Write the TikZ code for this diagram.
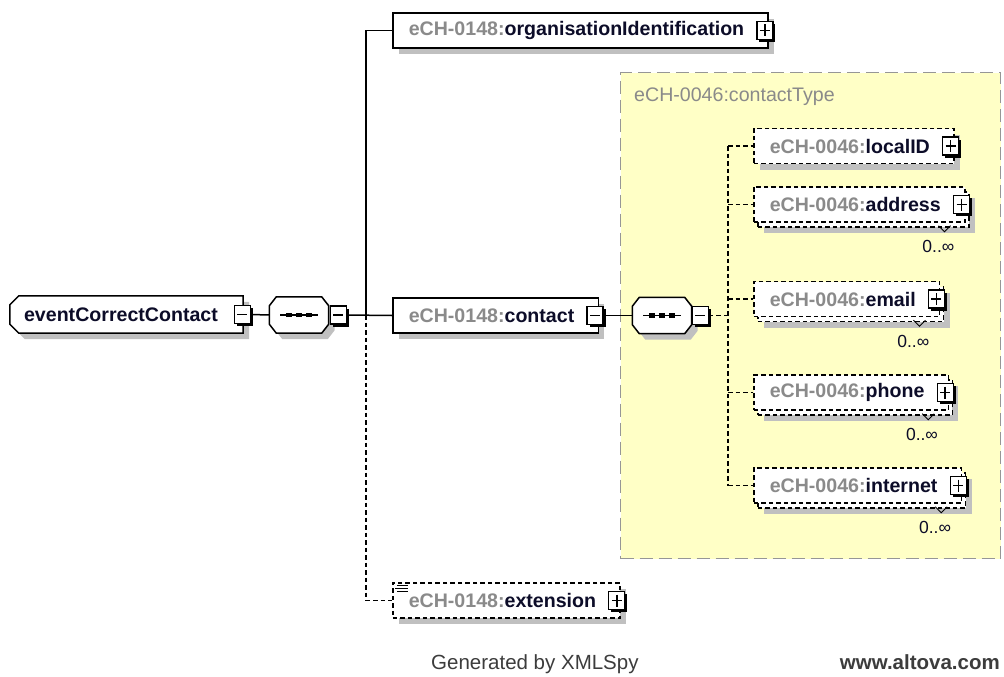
\documentclass[tikz,border=0pt]{standalone}
\usepackage{fontspec}
\setmainfont{Liberation Sans}
\usetikzlibrary{shadows,calc,positioning}

\pgfdeclarelayer{background}
\pgfsetlayers{background,main}

\definecolor{prefixgray}{RGB}{138,138,138}
\definecolor{namecol}{RGB}{12,12,40}
\definecolor{shadowgray}{RGB}{192,192,192}
\definecolor{typefill}{RGB}{255,255,198}
\definecolor{typeline}{RGB}{150,150,150}
\definecolor{footgray}{RGB}{60,60,60}

\newcommand{\elname}[2]{\textcolor{prefixgray}{#1:}\textcolor{namecol}{#2}\hspace*{8pt}}
% outline with cut corners round a node: name, left cut, right cut, vertical cut
\newcommand{\chamferpath}[4]{([xshift=#2]#1.north west) -- ([xshift=-#3]#1.north east) -- ([yshift=-#4]#1.north east)
	-- ([yshift=#4]#1.south east) -- ([xshift=-#3]#1.south east) -- ([xshift=#2]#1.south west)
	-- ([yshift=#4]#1.south west) -- ([yshift=-#4]#1.north west) -- cycle}

\tikzset{
  elcore/.style={rectangle, draw=black, fill=white, line width=1.5pt, minimum height=35, inner xsep=16, inner ysep=0,
    anchor=west, font=\bfseries\fontsize{19.6}{22}\selectfont},
  elem/.style={elcore, general shadow={fill=shadowgray, shadow xshift=6pt, shadow yshift=-6pt}},
  optelem/.style={elem, dash pattern=on 4.5pt off 3pt},
  multelem/.style={elcore, dash pattern=on 4.5pt off 3pt,
    general shadow={fill=shadowgray, shadow xshift=10pt, shadow yshift=-11pt},
    general shadow={fill=white, draw=black, shadow xshift=4pt, shadow yshift=-5pt}},
  rootelem/.style={rectangle, minimum width=233, minimum height=37, inner sep=0, font=\bfseries\fontsize{19.6}{22}\selectfont},
  seqbox/.style={rectangle, minimum width=59, minimum height=36, inner sep=0},
  cutbox/.style={draw=black, fill=white, line width=1.5pt},
  btn/.style={rectangle, draw=black, fill=white, solid, line width=1.2pt, minimum width=16, minimum height=18, inner sep=0,
    general shadow={fill=black, shadow xshift=2.5pt, shadow yshift=-2.5pt}},
  minusbtn/.style={btn, path picture={
      \draw[line width=1.4pt] ($(path picture bounding box.west)+(3,0)$) -- ($(path picture bounding box.east)+(-3,0)$);}},
  plusbtn/.style={btn, path picture={
      \draw[line width=1.4pt] ($(path picture bounding box.west)+(3,0)$) -- ($(path picture bounding box.east)+(-3,0)$)
        ($(path picture bounding box.north)+(0,3)$) -- ($(path picture bounding box.south)+(0,-3)$);}},
  typebox/.style={rectangle, draw=typeline, fill=typefill, line width=1.4pt, dash pattern=on 13pt off 6pt},
  typelabel/.style={inner sep=0, text=prefixgray, font=\fontsize{19.6}{22}\selectfont},
  card/.style={inner sep=0, text=namecol, font=\fontsize{17.5}{20}\selectfont},
  marker/.style={line width=0.9pt},
  conn/.style={line width=1.5pt},
  optconn/.style={conn, dash pattern=on 4.5pt off 3pt},
  foot/.style={inner sep=0, text=footgray, font=\fontsize{20.5}{24}\selectfont}
}

\begin{document}
\begin{tikzpicture}[x=1pt,y=-1pt]
	\useasboundingbox (0,0) rectangle (1004,677);

	%%% contactType background
	\begin{pgfonlayer}{background}
		\node[typebox, anchor=north west, minimum width=380, minimum height=486] (ctype) at (620,72) {};
	\end{pgfonlayer}
	\node[typelabel, anchor=base west] (ctypeLabel) at (634,102) {eCH-0046:contactType};

	%%% root element and both sequences
	\node[rootelem] (root) at (126.5,314.5) {\textcolor{namecol}{eventCorrectContact}\hspace*{11pt}};
	\node[seqbox] (seqA) at (299,315) {};
	\node[seqbox] (seqB) at (662,315.5) {};

	\begin{pgfonlayer}{background}
		\foreach \n/\l/\r in {root/9/0, seqA/7/7, seqB/7/7} {
			\fill[shadowgray, transform canvas={shift={(6pt,-6pt)}}] \chamferpath{\n}{\l}{\r}{9};
			\path[cutbox] \chamferpath{\n}{\l}{\r}{9};
		}
	\end{pgfonlayer}

	\foreach \n in {seqA,seqB} {
		\draw[conn] ([xshift=11]\n.west) -- ([xshift=-11]\n.east);
		\foreach \d in {-10,0,10}
			\fill ([xshift=\d]\n.center) +(-2.6,-2.4) rectangle +(2.6,2.4);
	}

	\node[minusbtn] (rootbtn) at ([xshift=-1pt]root.east) {};
	\node[minusbtn, right=1pt of seqA] (seqAbtn) {};
	\node[minusbtn, right=0pt of seqB] (seqBbtn) {};

	%%% children of the first sequence
	\node[elem] (orgid) at (392,30.5) {\elname{eCH-0148}{organisationIdentification}};
	\node[plusbtn] (orgidbtn) at ([xshift=-4pt]orgid.east) {};
	\node[elem] (contact) at (392,315.5) {\elname{eCH-0148}{contact}};
	\node[minusbtn] (contactbtn) at ([xshift=-4pt]contact.east) {};
	\node[optelem] (extension) at (392,600.5) {\elname{eCH-0148}{extension}};
	\node[plusbtn] (extensionbtn) at ([xshift=-4pt]extension.east) {};
	% annotation icon
	\draw[line width=1pt] ([xshift=5pt,yshift=-3pt]extension.north west) -- ++(11,0)
		([xshift=3pt,yshift=-6pt]extension.north west) -- ++(13,0)
		([xshift=5pt,yshift=-9pt]extension.north west) -- ++(11,0);

	\coordinate (jA) at (366,315);
	\draw[conn] (rootbtn.east) -- (seqA.west);
	\draw[conn] (seqAbtn.east) -- (contact.west);
	\draw[conn] (orgid.west) -| (jA);
	\draw[optconn] (jA) |- (extension.west);

	%%% children of the second sequence
	\draw[conn] (contactbtn.east) -- (seqB.west);

	\node[optelem] (localid) at (753,146) {\elname{eCH-0046}{localID}};
	\node[multelem] (address) at (753,204.5) {\elname{eCH-0046}{address}};
	\node[multelem] (email) at (753,299) {\elname{eCH-0046}{email}};
	\node[multelem] (phone) at (753,392.5) {\elname{eCH-0046}{phone}};
	\node[multelem] (internet) at (753,485.5) {\elname{eCH-0046}{internet}};

	\foreach \n in {localid,address,email,phone,internet}
		\node[plusbtn] (btn-\n) at ([xshift=-4pt]\n.east) {};

	% occurrence labels
	\foreach \n in {address,email,phone,internet} {
		\node[card, anchor=east] (card-\n) at ([xshift=-11pt,yshift=-24pt]\n.south east) {0..∞};
		\draw[marker] ([xshift=-27pt,yshift=-3pt]\n.south east) -- ++(6,6) -- ++(6,-6);
	}

	\coordinate (jB) at (728,315.5);
	\draw[optconn] (seqBbtn.east) -- (jB);
	\draw[optconn] (localid.west -| jB) -- (internet.west -| jB);
	\foreach \n in {localid,address,email,phone,internet}
		\draw[optconn] (\n.west -| jB) -- (\n.west);

	%%% footer
	\node[foot, anchor=base west] (gen) at (431,669) {Generated by XMLSpy};
	\node[foot, anchor=base east, font=\bfseries\fontsize{20.5}{24}\selectfont] (altova) at (1000,669) {www.altova.com};
\end{tikzpicture}
\end{document}
